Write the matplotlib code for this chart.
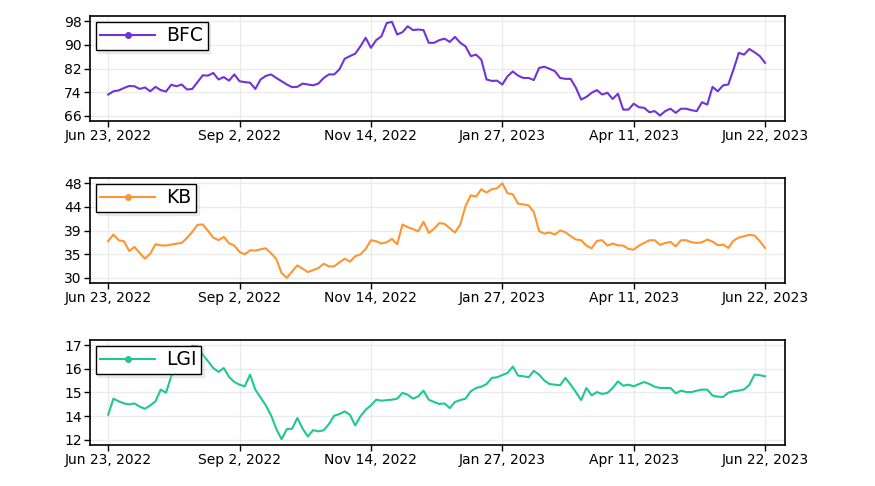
"""
Three stacked price panels (BFC, KB, LGI), one year of trading days,
sampled every second session.
"""

import numpy as np
import matplotlib
matplotlib.use("Agg")
import matplotlib.pyplot as plt
from matplotlib.lines import Line2D

# --- data (one value every 2 trading days) ---
bfc = [73.2, 74.3, 74.6, 75.4, 76.1, 76.0, 75.1, 75.6, 74.3, 75.8,
       74.7, 74.2, 76.5, 76.0, 76.6, 74.9, 75.1, 77.4, 79.7, 79.6,
       80.5, 78.3, 79.1, 77.9, 80.0, 77.7, 77.4, 77.2, 75.1, 78.3,
       79.5, 80.0, 78.8, 77.7, 76.6, 75.7, 75.8, 76.9, 76.6, 76.3,
       76.9, 78.8, 80.0, 80.0, 81.7, 85.3, 86.2, 87.0, 89.5, 92.4,
       89.0, 91.6, 92.9, 97.4, 97.8, 93.5, 94.3, 96.3, 95.0, 95.2,
       95.0, 90.7, 90.7, 91.6, 92.1, 91.0, 92.7, 90.7, 89.5, 86.2,
       86.7, 85.0, 78.3, 77.8, 77.9, 76.6, 79.4, 81.0, 79.6, 78.8,
       78.8, 78.1, 82.2, 82.6, 81.9, 81.1, 78.8, 78.5, 78.5, 75.5,
       71.5, 72.4, 73.8, 74.7, 73.2, 73.8, 71.7, 73.5, 68.1, 68.1,
       70.1, 68.9, 68.7, 67.2, 67.6, 66.1, 67.6, 68.4, 67.0, 68.4,
       68.4, 67.9, 67.6, 70.6, 69.8, 75.8, 74.3, 76.3, 76.6, 81.7,
       87.3, 86.7, 88.6, 87.5, 86.2, 83.9]

kb = [37.08, 38.34, 37.27, 37.08, 35.25, 36.01, 34.87, 33.80, 34.74, 36.51,
      36.32, 36.26, 36.45, 36.64, 36.76, 37.71, 38.85, 40.17, 40.24, 39.04,
      37.77, 37.27, 37.90, 36.70, 36.26, 35.06, 34.62, 35.38, 35.31, 35.57,
      35.75, 34.81, 33.73, 31.08, 30.20, 31.40, 32.54, 31.90, 31.27, 31.65,
      32.03, 32.85, 32.35, 32.35, 33.10, 33.80, 33.23, 34.24, 34.62, 35.63,
      37.27, 37.08, 36.64, 36.89, 37.52, 36.51, 40.24, 39.73, 39.35, 38.97,
      40.74, 38.66, 39.42, 40.49, 40.36, 39.54, 38.72, 40.24, 43.71, 45.73,
      45.48, 46.86, 46.23, 46.86, 47.05, 48.00, 46.11, 45.92, 44.15, 44.02,
      43.83, 42.57, 38.97, 38.53, 38.72, 38.34, 39.10, 38.78, 38.03, 37.40,
      37.27, 36.26, 35.75, 37.14, 37.27, 36.26, 36.64, 36.32, 36.26, 35.63,
      35.50, 36.26, 36.76, 37.27, 37.27, 36.39, 36.76, 36.95, 36.13, 37.27,
      37.27, 36.89, 36.76, 36.89, 37.40, 37.02, 36.32, 36.45, 35.82, 37.21,
      37.77, 38.03, 38.28, 38.15, 37.08, 35.82]

lgi = [13.62, 14.40, 14.27, 14.17, 14.12, 14.17, 14.01, 13.91, 14.07, 14.27,
       14.84, 14.69, 15.49, 16.03, 16.35, 16.68, 16.97, 16.95, 16.54, 16.22,
       15.89, 15.70, 15.89, 15.46, 15.21, 15.08, 15.00, 15.57, 14.84, 14.46,
       14.07, 13.59, 12.92, 12.43, 12.92, 12.94, 13.46, 12.94, 12.56, 12.87,
       12.81, 12.86, 13.16, 13.57, 13.65, 13.78, 13.62, 13.10, 13.54, 13.86,
       14.07, 14.35, 14.30, 14.33, 14.35, 14.40, 14.68, 14.59, 14.40, 14.51,
       14.79, 14.35, 14.24, 14.14, 14.17, 13.94, 14.24, 14.33, 14.40, 14.76,
       14.92, 14.98, 15.11, 15.41, 15.44, 15.55, 15.65, 15.96, 15.52, 15.49,
       15.44, 15.75, 15.57, 15.28, 15.11, 15.08, 15.05, 15.41, 15.08, 14.72,
       14.33, 14.92, 14.56, 14.72, 14.63, 14.68, 14.92, 15.24, 15.03, 15.08,
       15.00, 15.11, 15.21, 15.11, 14.98, 14.92, 14.92, 14.92, 14.66, 14.79,
       14.72, 14.72, 14.79, 14.84, 14.84, 14.55, 14.50, 14.48, 14.69, 14.76,
       14.79, 14.85, 15.07, 15.57, 15.54, 15.49]

names = ["BFC", "KB", "LGI"]
colors = ["#7232d6", "#ff9530", "#1fc98e"]

# x ticks every 50 trading days
date_ticks = [0, 50, 100, 150, 200, 250]
date_labels = ["Jun 23, 2022", "Sep 2, 2022", "Nov 14, 2022",
               "Jan 27, 2023", "Apr 11, 2023", "Jun 22, 2023"]

# y ticks span data min..max in five steps, labels rounded
bfc_ticks = [66, 74, 82, 90, 98]
bfc_labels = ["66", "74", "82", "90", "98"]
kb_ticks = [30.2, 34.65, 39.1, 43.55, 48.0]
kb_labels = ["30", "35", "39", "44", "48"]
lgi_ticks = [12.4, 13.55, 14.7, 15.85, 17.0]
lgi_labels = ["12", "14", "15", "16", "17"]

series = [bfc, kb, lgi]
yticks = [bfc_ticks, kb_ticks, lgi_ticks]
ylabels = [bfc_labels, kb_labels, lgi_labels]
STEP = 2  # trading days between samples

fig = plt.figure(figsize=(8.75, 4.86), dpi=100)
boxes = [0.751, 0.4177, 0.0844]

for vals, name, col, yt, yl, b in zip(series, names, colors, yticks, ylabels, boxes):
    ax = fig.add_axes([0.1029, b, 0.7943, 0.216])
    x = np.arange(len(vals)) * STEP
    ax.plot(x, vals, color=col, lw=1.5)

    ax.set_xlim(-6.9, 257.6)
    span = yt[-1] - yt[0]
    ax.set_ylim(yt[0] - 0.055 * span, yt[-1] + 0.055 * span)

    ax.set_xticks(date_ticks)
    ax.set_xticklabels(date_labels)
    ax.set_yticks(yt)
    ax.set_yticklabels(yl)
    ax.tick_params(axis="both", labelsize=10, direction="out", length=4,
                   width=1, color="black", pad=2)
    ax.grid(True, color="#ebebeb", lw=1)
    ax.set_axisbelow(True)
    for sp in ax.spines.values():
        sp.set_color("black"); sp.set_linewidth(1.2)

    handle = Line2D([], [], color=col, lw=1.5, marker="o", markersize=4)
    leg = ax.legend([handle], [name], loc="upper left", fontsize=13.5,
                    handlelength=2.9, numpoints=1, fancybox=False,
                    framealpha=1, edgecolor="black", borderpad=0.25,
                    borderaxespad=0.3, handletextpad=0.6,
                    shadow={"color": "0.75", "alpha": 0.25})
    leg.get_frame().set_linewidth(1.0)

fig.savefig("out.png", dpi=100)
